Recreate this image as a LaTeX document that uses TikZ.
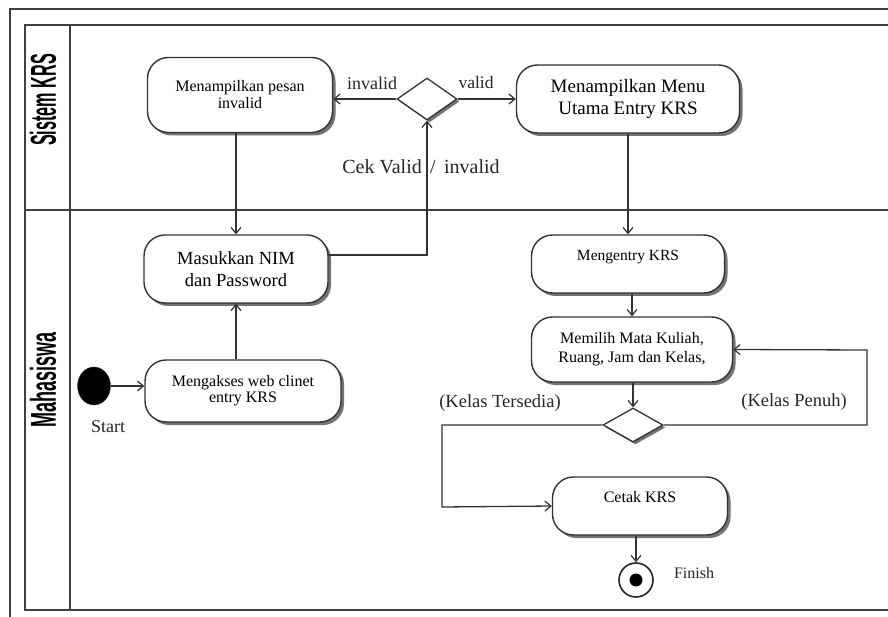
\documentclass[tikz,border=0pt]{standalone}
\usepackage{fontspec}
\setmainfont{Liberation Serif}
\newfontfamily\lanefont{Liberation Sans}
\usetikzlibrary{shapes.geometric,arrows.meta,shadows}
\tikzset{
  frameline/.style={draw=black!75, line width=1.6pt},
  act/.style={draw=black!80, line width=1.4pt, rounded corners=21pt, fill=white,
    align=center, inner sep=2pt,
    drop shadow={shadow xshift=3pt, shadow yshift=-3pt, fill=black!55, opacity=1}},
  decis/.style={diamond, draw=black!80, line width=1.3pt, fill=white, inner sep=0pt,
    drop shadow={shadow xshift=2.5pt, shadow yshift=-2.5pt, fill=black!55, opacity=1}},
  flow/.style={draw=black!80, line width=1.3pt, -{Straight Barb[length=6pt,width=10pt,line width=1.2pt]}},
  lbl/.style={inner sep=0pt, text=black!85},
  lanelbl/.style={rotate=90, inner sep=0pt, font=\lanefont\bfseries\fontsize{36}{36}\selectfont}
}
\begin{document}
\begin{tikzpicture}[x=1pt,y=-1pt]
\useasboundingbox (0,0) rectangle (888,617);
\fill[white] (0,0) rectangle (888,617);
% frames
\draw[frameline] (888,9) -- (10,9) -- (10,617);
\draw[frameline] (888,25) -- (25,25) -- (25,610) -- (888,610);
\draw[frameline] (70,25) -- (70,610);
\draw[frameline] (25,210) -- (888,210);
% lane labels
\node[lanelbl] (laneA) at (43,100) {\scalebox{0.45}[1]{Sistem KRS}};
\node[lanelbl] (laneB) at (43,380) {\scalebox{0.5}[1]{Mahasiswa}};
% activities
\node[act, minimum width=185pt, minimum height=75pt, font=\fontsize{16}{17}\selectfont]
  (pesan) at (240,95) {Menampilkan pesan\\invalid};
\node[decis, minimum width=60pt, minimum height=42pt] (cek) at (427,99) {};
\node[act, minimum width=223pt, minimum height=68pt, font=\fontsize{19}{22}\selectfont]
  (menu) at (628,99) {Menampilkan Menu\\Utama Entry KRS};
\node[act, minimum width=184pt, minimum height=68pt, font=\fontsize{18.5}{22}\selectfont]
  (nim) at (236,269) {Masukkan NIM\\dan Password};
\node[act, minimum width=196pt, minimum height=62pt, font=\fontsize{16}{16}\selectfont]
  (akses) at (243,391) {Mengakses web clinet\\entry KRS};
\node[ellipse, fill=black, draw=black!80, minimum width=33pt, minimum height=38pt, inner sep=0pt]
  (start) at (94,386) {};
\node[act, minimum width=193pt, minimum height=58pt, font=\fontsize{15.5}{17}\selectfont]
  (entry) at (628,264) {Mengentry KRS\vphantom{g}\\[-4pt]\strut};
\node[act, minimum width=201pt, minimum height=65pt, font=\fontsize{16}{19}\selectfont]
  (pilih) at (632,349.5) {Memilih Mata Kuliah,\\Ruang, Jam dan Kelas,};
\node[decis, minimum width=60pt, minimum height=34pt] (kelas) at (633,425) {};
\node[act, minimum width=175pt, minimum height=58pt, font=\fontsize{16}{17}\selectfont]
  (cetak) at (640,506) {Cetak KRS\\[-4pt]\strut};
\node[circle, draw=black!85, line width=1.6pt, fill=white, minimum size=34pt, inner sep=0pt]
  (finish) at (636,580) {};
\fill[black] (finish.center) circle (6.5pt);
% labels
\node[lbl, font=\fontsize{18}{18}\selectfont] (lInv) at (372,83) {invalid};
\node[lbl, font=\fontsize{17.5}{18}\selectfont] (lVal) at (476,83) {valid};
\node[lbl, font=\fontsize{20}{20}\selectfont] (lCek) at (421,167) {Cek Valid \,/\, invalid};
\node[lbl, font=\fontsize{18.5}{19}\selectfont] (lTer) at (500,403) {(Kelas Tersedia)};
\node[lbl, font=\fontsize{18.5}{19}\selectfont] (lPen) at (794,402) {(Kelas Penuh)};
\node[lbl, font=\fontsize{18}{18}\selectfont] (lStart) at (108,427) {Start};
\node[lbl, font=\fontsize{16}{16}\selectfont] (lFin) at (694,573) {Finish};
% coordinates
\coordinate (k1) at (427,255);
\coordinate (loopR) at (867,350);
\coordinate (loopL) at (442,507);
% connectors
\draw[flow] (cek.west) -- (cek.west -| pesan.east);
\draw[flow] (cek.east) -- (cek.east -| menu.west);
\draw[flow] (nim.north |- pesan.south) -- (nim.north);
\draw[flow] (nim.south |- akses.north) -- (nim.south);
\draw[flow] (nim.east |- k1) -- (k1) -- (cek.south);
\draw[flow] (start.east) -- (start.east -| akses.west);
\draw[flow] (menu.south) -- (entry.north);
\draw[flow] (pilih.north |- entry.south) -- (pilih.north);
\draw[flow] (kelas.north |- pilih.south) -- (kelas.north);
\draw[flow] (kelas.east) -| (loopR) -- (pilih.east);
\draw[flow] (kelas.west) -| (loopL) -- (cetak.west);
\draw[flow] (finish.north |- cetak.south) -- (finish.north);
\end{tikzpicture}
\end{document}
